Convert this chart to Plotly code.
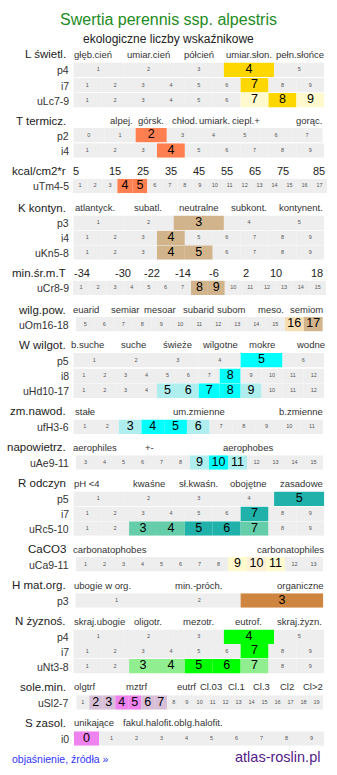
import plotly.graph_objects as go

# ---------------- data ----------------
TITLE = "Swertia perennis ssp. alpestris"
SUBTITLE = "ekologiczne liczby wskaźnikowe"

L_classes = ["głęb.cień", "umiar.cień", "półcień", "umiar.słon.", "pełn.słońce"]
L_p_cells = [1, 2, 3, 4, 5]
L_p_strong = [4]
L_i_cells = [1, 2, 3, 4, 5, 6, 7, 8, 9]
L_i_strong = [7]
L_u_cells = [1, 2, 3, 4, 5, 6, 7, 8, 9]
L_u_strong = [8]
L_u_weak = [7, 9]

T_classes = ["alpej.", "górsk.", "chłod.", "umiark.", "ciepl.+", "gorąc."]
T_p_cells = [0, 1, 2, 3, 4, 5, 6, 7]
T_p_strong = [2]
T_i_cells = [1, 2, 3, 4, 5, 6, 7, 8, 9]
T_i_strong = [4]
kcal_ticks = [5, 15, 25, 35, 45, 55, 65, 75, 85]
T_u_cells = [1, 2, 3, 4, 5, 6, 7, 8, 9, 10, 11, 12, 13, 14, 15, 16, 17]
T_u_strong = [4, 5]

K_classes = ["atlantyck.", "subatl.", "neutralne", "subkont.", "kontynent."]
K_p_cells = [1, 2, 3, 4, 5]
K_p_strong = [3]
K_i_cells = [1, 2, 3, 4, 5, 6, 7, 8, 9]
K_i_strong = [4]
K_u_cells = [1, 2, 3, 4, 5, 6, 7, 8, 9]
K_u_strong = [4, 5]
minT_ticks = [-34, -30, -22, -14, -6, 2, 10, 18]
C_u_cells = [1, 2, 3, 4, 5, 6, 7, 8, 9, 10, 11, 12, 13, 14, 15]
C_u_strong = [8, 9]

Om_classes = ["euarid", "semiar", "mesoar", "subarid", "subom", "meso.", "semiom"]
Om_u_cells = [5, 6, 7, 8, 9, 10, 11, 12, 13, 14, 15, 16, 17]
Om_u_strong = [17]
Om_u_weak = [16]

W_classes = ["b.suche", "suche", "świeże", "wilgotne", "mokre", "wodne"]
W_p_cells = [1, 2, 3, 4, 5, 6]
W_p_strong = [5]
W_i_cells = [1, 2, 3, 4, 5, 6, 7, 8, 9, 10, 11, 12]
W_i_strong = [8]
W_u_cells = [1, 2, 3, 4, 5, 6, 7, 8, 9, 10, 11, 12]
W_u_strong = [7, 8]
W_u_weak = [5, 6, 9]

fH_classes = ["stałe", "um.zmienne", "b.zmienne"]
fH_u_cells = [1, 2, 3, 4, 5, 6, 7, 8, 9, 10, 11]
fH_u_strong = [4, 5]
fH_u_weak = [3, 6]

Ae_classes = ["aerophiles", "+-", "aerophobes"]
Ae_u_cells = [3, 4, 5, 6, 7, 8, 9, 10, 11, 12, 13, 14, 15]
Ae_u_strong = [10]
Ae_u_weak = [9, 11]

R_classes = ["pH <4", "kwaśne", "sł.kwaśn.", "obojętne", "zasadowe"]
R_p_cells = [1, 2, 3, 4, 5]
R_p_strong = [5]
R_i_cells = [1, 2, 3, 4, 5, 6, 7, 8, 9]
R_i_strong = [7]
R_u_cells = [1, 2, 3, 4, 5, 6, 7, 8, 9]
R_u_strong = [5, 6]
R_u_weak = [3, 4, 7]

Ca_classes = ["carbonatophobes", "carbonatophiles"]
Ca_u_cells = [1, 2, 3, 4, 5, 6, 7, 8, 9, 10, 11, 12, 13]
Ca_u_strong = [10]
Ca_u_weak = [9, 11]

H_classes = ["ubogie w org.", "min.-próch.", "organiczne"]
H_p_cells = [1, 2, 3]
H_p_strong = [3]

N_classes = ["skraj.ubogie", "oligotr.", "mezotr.", "eutrof.", "skraj.żyzn."]
N_p_cells = [1, 2, 3, 4, 5]
N_p_strong = [4]
N_i_cells = [1, 2, 3, 4, 5, 6, 7, 8, 9]
N_i_strong = [7]
N_u_cells = [1, 2, 3, 4, 5, 6, 7, 8, 9]
N_u_strong = [5, 6]
N_u_weak = [3, 4, 7]

Sl_classes = ["olgtrf", "mztrf", "eutrf", "Cl.03", "Cl.1", "Cl.3", "Cl2", "Cl>2"]
Sl_u_cells = [1, 2, 3, 4, 5, 6, 7, 8, 9, 10, 11, 12, 13, 14, 15, 16, 17, 18, 19]
Sl_u_strong = [4, 5]
Sl_u_weak = [2, 3, 6, 7]

S_classes = ["unikające", "fakul.halofit.", "oblg.halofit."]
S_i_cells = [0, 1, 2, 3, 4, 5, 6, 7, 8, 9]
S_i_strong = [0]

# ---------------- styles / layout ----------------
W, H = 337, 775
FONT = "Arial, Liberation Sans, sans-serif"
GREY = "#eeeeee"
C = dict(
    L=("#ffd700", "#fffacd"), T=("#ff7f50", "#ffc0a0"), K=("#d2b48c", "#f5deb3"),
    W=("#00ffff", "#afeeee"), R=("#20b2aa", "#66cdaa"), Ca=("#ffefd5", "#fffacd"),
    H=("#cd853f", "#deb887"), N=("#00ff00", "#90ee90"), S=("#ee82ee", "#d8bfd8"),
)

G0, G1 = 73.3, 324.3  # standard grid extent (px)
# (label, cells, strong, weak, colours, y centre, x0, x1)
rows = [
    ("p4", L_p_cells, L_p_strong, [], C["L"], 69.7, G0, G1),
    ("i7", L_i_cells, L_i_strong, [], C["L"], 85.2, G0, G1),
    ("uLc7-9", L_u_cells, L_u_strong, L_u_weak, C["L"], 100.3, G0, G1),
    ("p2", T_p_cells, T_p_strong, [], C["T"], 135.2, G0, 322.7),
    ("i4", T_i_cells, T_i_strong, [], C["T"], 150.5, G0, G1),
    ("uTm4-5", T_u_cells, T_u_strong, [], C["T"], 186.0, 72.5, 327.0),
    ("p3", K_p_cells, K_p_strong, [], C["K"], 222.9, G0, G1),
    ("i4", K_i_cells, K_i_strong, [], C["K"], 237.7, G0, G1),
    ("uKn5-8", K_u_cells, K_u_strong, [], C["K"], 252.5, G0, G1),
    ("uCr8-9", C_u_cells, C_u_strong, [], C["K"], 287.7, 72.7, 326.2),
    ("uOm16-18", Om_u_cells, Om_u_strong, Om_u_weak, C["K"], 324.2, 75.8, 322.8),
    ("p5", W_p_cells, W_p_strong, [], C["W"], 360.2, G0, G1),
    ("i8", W_i_cells, W_i_strong, [], C["W"], 375.8, G0, G1),
    ("uHd10-17", W_u_cells, W_u_strong, W_u_weak, C["W"], 390.6, G0, G1),
    ("ufH3-6", fH_u_cells, fH_u_strong, fH_u_weak, C["W"], 426.8, G0, 323.3),
    ("uAe9-11", Ae_u_cells, Ae_u_strong, Ae_u_weak, C["W"], 462.5, 76.0, 323.0),
    ("p5", R_p_cells, R_p_strong, [], C["R"], 498.8, G0, G1),
    ("i7", R_i_cells, R_i_strong, [], C["R"], 513.7, G0, G1),
    ("uRc5-10", R_u_cells, R_u_strong, R_u_weak, C["R"], 528.5, G0, G1),
    ("uCa9-11", Ca_u_cells, Ca_u_strong, Ca_u_weak, C["Ca"], 564.2, 76.0, 323.0),
    ("p3", H_p_cells, H_p_strong, [], C["H"], 600.5, 75.3, 323.3),
    ("p4", N_p_cells, N_p_strong, [], C["N"], 636.7, G0, G1),
    ("i7", N_i_cells, N_i_strong, [], C["N"], 651.2, G0, G1),
    ("uNt3-8", N_u_cells, N_u_strong, N_u_weak, C["N"], 666.2, G0, G1),
    ("uSl2-7", Sl_u_cells, Sl_u_strong, Sl_u_weak, C["S"], 702.5, 76.3, 323.0),
    ("i0", S_i_cells, S_i_strong, [], C["S"], 738.5, 74.0, 324.0),
]
ROW_H = 14.6

# (section title, y, labels, label x-centres, label font size)
headers = [
    ("L świetl.", 54.5, L_classes, [93, 148, 199, 249, 299.5], 9.5),
    ("T termicz.", 120.5, T_classes, [121, 151, 184, 214.5, 246, 309], 9.5),
    ("kcal/cm2*r", 170.7, [str(v) for v in kcal_ticks],
     [76, 115, 143.3, 171, 199, 226.7, 255, 282.7, 319], 11),
    ("K kontyn.", 207.7, K_classes, [94.5, 148, 199, 249, 300.5], 9.5),
    ("min.śr.m.T", 273.2, [str(v) for v in minT_ticks],
     [81.7, 122.7, 151.7, 182.7, 214.3, 245.7, 276, 316.7], 11),
    ("wilg.pow.", 309.5, Om_classes, [85.7, 125, 160.3, 198.7, 231.3, 270.5, 306.8], 9.5),
    ("W wilgot.", 344.5, W_classes, [87.8, 133.3, 177.5, 220, 261.7, 310], 9.5),
    ("zm.nawod.", 411.2, fH_classes, [85, 199.3, 301], 9.5),
    ("napowietrz.", 447.3, Ae_classes, [95, 149, 248.3], 9.5),
    ("R odczyn", 483.2, R_classes, [86.5, 148.8, 198.7, 248, 301.8], 9.5),
    ("CaCO3", 549.3, Ca_classes, [110, 290.5], 9.5),
    ("H mat.org.", 585.2, H_classes, [102.5, 199, 300.2], 9.5),
    ("N żyznoś.", 621.0, N_classes, [99, 148.3, 198, 248.8, 299.7], 9.5),
    ("sole.min.", 686.8, Sl_classes, [84, 136, 186.7, 210.8, 236.8, 261.3, 286.7, 313.3], 9.5),
    ("S zasol.", 722.8, S_classes, [93.7, 148.3, 198.5], 9.5),
]

fig = go.Figure()
layout = {}
annotations = []


def fy(y):
    return 1 - y / H


for k, (label, cells, strong, weak, cols, yc, x0, x1) in enumerate(rows, start=1):
    n = len(cells)
    xs = list(range(1, n + 1))
    colors, sizes, tcols = [], [], []
    for v in cells:
        if v in strong:
            colors.append(cols[0]); sizes.append(12.5); tcols.append("#000000")
        elif v in weak:
            colors.append(cols[1]); sizes.append(12.5); tcols.append("#000000")
        else:
            colors.append(GREY); sizes.append(5.5); tcols.append("#555555")
    if label == "uCa9-11":
        # both shades are pale for CaCO3
        colors = [("#ffefd5" if v in strong else "#fffacd" if v in weak else GREY) for v in cells]
    xa = "x" if k == 1 else f"x{k}"
    ya = "y" if k == 1 else f"y{k}"
    fig.add_trace(go.Bar(x=xs, y=[1] * n, width=1, marker=dict(color=colors, line_width=0),
                         xaxis=xa, yaxis=ya, hoverinfo="skip", showlegend=False))
    fig.add_trace(go.Scatter(x=xs, y=[0.5] * n, mode="text", text=[str(v) for v in cells],
                             textposition="middle center",
                             textfont=dict(size=sizes, color=tcols, family=FONT),
                             xaxis=xa, yaxis=ya, hoverinfo="skip", showlegend=False))
    sfx = "" if k == 1 else str(k)
    layout["xaxis" + sfx] = dict(domain=[x0 / W, x1 / W], range=[0.5, n + 0.5], visible=False,
                                 fixedrange=True, anchor=ya)
    layout["yaxis" + sfx] = dict(domain=[fy(yc + ROW_H / 2), fy(yc - ROW_H / 2)], range=[0, 1],
                                 visible=False, fixedrange=True, anchor=xa)
    annotations.append(dict(text=label, x=70.8 / W, y=fy(yc + 0.5), xref="paper", yref="paper",
                            xanchor="right", yanchor="middle", showarrow=False,
                            font=dict(size=10.5, color="#333333", family=FONT)))

for title, y, labels, xcs, fs in headers:
    annotations.append(dict(text=title, x=68.3 / W, y=fy(y), xref="paper", yref="paper",
                            xanchor="right", yanchor="middle", showarrow=False,
                            font=dict(size=11.5, color="#222222", family=FONT)))
    for lab, xc in zip(labels, xcs):
        annotations.append(dict(text=lab, x=xc / W, y=fy(y), xref="paper", yref="paper",
                                xanchor="center", yanchor="middle", showarrow=False,
                                font=dict(size=fs, color="#333333" if fs < 10 else "#222222",
                                          family=FONT)))

annotations.append(dict(text=TITLE, x=168.5 / W, y=fy(20), xref="paper", yref="paper",
                        xanchor="center", yanchor="middle", showarrow=False,
                        font=dict(size=16, color="#228b22", family=FONT)))
annotations.append(dict(text=SUBTITLE, x=168.5 / W, y=fy(38.5), xref="paper", yref="paper",
                        xanchor="center", yanchor="middle", showarrow=False,
                        font=dict(size=12, color="#222222", family=FONT)))
annotations.append(dict(text="objaśnienie, źródła »", x=9.5 / W, y=fy(759), xref="paper",
                        yref="paper", xanchor="left", yanchor="middle", showarrow=False,
                        font=dict(size=10.5, color="#3333ff", family=FONT)))
annotations.append(dict(text="atlas-roslin.pl", x=322 / W, y=fy(757), xref="paper",
                        yref="paper", xanchor="right", yanchor="middle", showarrow=False,
                        font=dict(size=14.5, color="#551a8b", family=FONT)))

fig.update_layout(width=W, height=H, margin=dict(l=0, r=0, t=0, b=0),
                  paper_bgcolor="white", plot_bgcolor="rgba(0,0,0,0)",
                  annotations=annotations, showlegend=False, **layout)

fig.write_html("out.html", config={"displayModeBar": False})
